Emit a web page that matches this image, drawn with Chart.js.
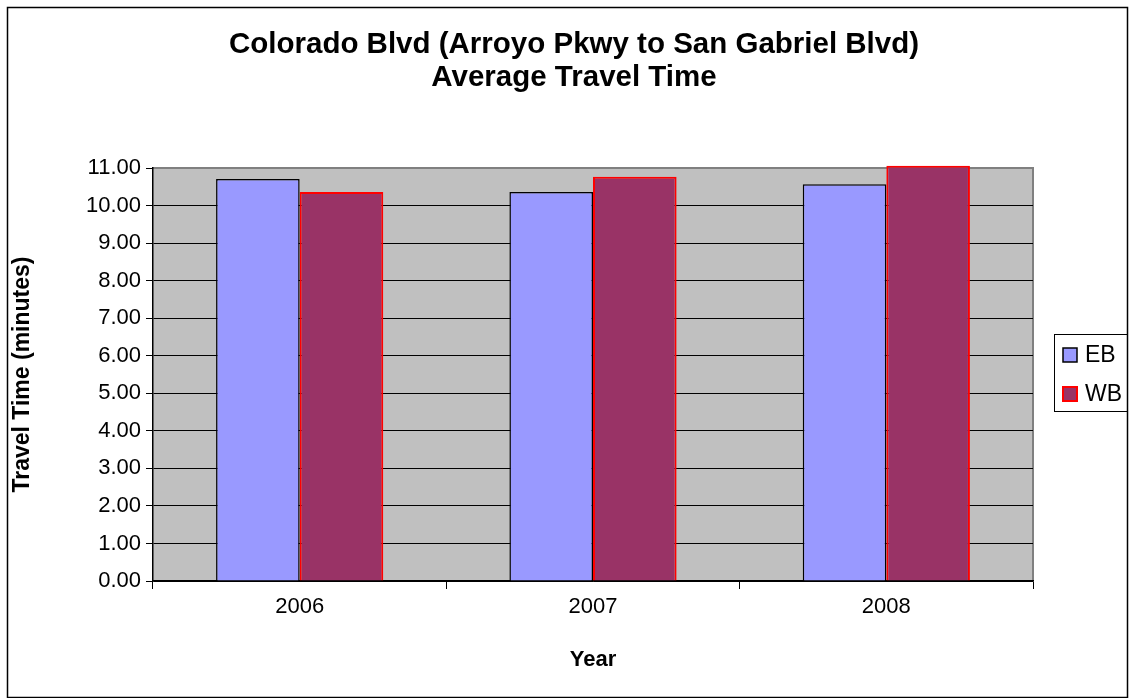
<!DOCTYPE html>
<html>
<head>
<meta charset="utf-8">
<script src="https://cdn.jsdelivr.net/npm/chart.js@4/dist/chart.umd.min.js"></script>
<style>
  body { margin: 0; background: #fff; }
  #wrap { width: 1130px; height: 698px; }
</style>
</head>
<body>
<div id="wrap"><canvas id="travelChart" width="1130" height="698"></canvas></div>
<script>
// ===============================
// DATA
// ===============================
const years = ["2006", "2007", "2008"];
const ebTimes = [10.71, 10.36, 10.57];
const wbTimes = [10.36, 10.77, 11.06];
const titleLines = ["Colorado Blvd (Arroyo Pkwy to San Gabriel Blvd)", "Average Travel Time"];

const FONT = "'Liberation Sans', Arial, sans-serif";

// ===============================
// PLUGINS
// ===============================
const plotBackground = {
  id: "plotBackground",
  beforeDraw(chart){
    let a = chart.chartArea;
    let ctx = chart.ctx;
    ctx.save();
    ctx.fillStyle = "#C0C0C0";
    ctx.fillRect(a.left, a.top, a.right - a.left, a.bottom - a.top);
    ctx.strokeStyle = "#808080";
    ctx.lineWidth = 2;
    ctx.beginPath();
    ctx.moveTo(a.left, a.top);
    ctx.lineTo(a.right, a.top);
    ctx.lineTo(a.right, a.bottom);
    ctx.stroke();
    ctx.restore();
  }
};

// outer frame + boxed legend on the right
const frameAndLegend = {
  id: "frameAndLegend",
  afterDraw(chart){
    let ctx = chart.ctx;
    ctx.save();
    ctx.strokeStyle = "#000";
    ctx.lineWidth = 1.5;
    ctx.strokeRect(7.5, 7.5, 1120, 690);

    // legend box
    ctx.lineWidth = 1;
    ctx.strokeRect(1054.5, 334.5, 73, 77);
    ctx.font = "23px " + FONT;
    ctx.textBaseline = "middle";
    ctx.textAlign = "left";
    let rows = [355, 394];
    chart.data.datasets.forEach(function(ds, i){
      let y = rows[i];
      ctx.fillStyle = ds.backgroundColor;
      ctx.fillRect(1063, y - 7, 14, 14);
      ctx.strokeStyle = ds.borderColor;
      ctx.lineWidth = i === 0 ? 1.5 : 2;
      ctx.strokeRect(1063, y - 7, 14, 14);
      ctx.fillStyle = "#000";
      ctx.fillText(ds.label, 1085, y + 1);
    });
    ctx.restore();
  }
};

// ===============================
// CHART
// ===============================
let ctx1 = document.getElementById("travelChart").getContext("2d");

new Chart(ctx1, {
  type: "bar",
  data: {
    labels: years,
    datasets: [
      {
        label: "EB",
        data: ebTimes,
        backgroundColor: "#9999FF",
        borderColor: "#000000",
        borderWidth: 1.5,
        clip: false
      },
      {
        label: "WB",
        data: wbTimes,
        backgroundColor: "#993366",
        borderColor: "#FF0000",
        borderWidth: 2,
        clip: false
      }
    ]
  },
  options: {
    responsive: false,
    animation: false,
    layout: { padding: { left: 18, right: 0, top: 0, bottom: 25 } },
    datasets: { bar: { categoryPercentage: 0.57, barPercentage: 1.0 } },
    plugins: {
      legend: { display: false },
      tooltip: { enabled: false },
      title: {
        display: true,
        text: titleLines,
        color: "#000",
        font: { family: FONT, size: 29.5, weight: "bold", lineHeight: 1.12 },
        padding: { top: 28, bottom: 74 }
      }
    },
    scales: {
      x: {
        grid: { display: true, drawOnChartArea: false, drawTicks: true, tickLength: 8, offset: true, color: "#000" },
        border: { color: "#000", width: 1.5 },
        ticks: { color: "#000", font: { family: FONT, size: 22 }, padding: 5 },
        title: { display: true, text: "Year", color: "#000", font: { family: FONT, size: 22, weight: "bold" }, padding: 0 },
        afterFit(scale){ scale.height = 92; }
      },
      y: {
        min: 0,
        max: 11,
        ticks: {
          stepSize: 1,
          color: "#000",
          font: { family: FONT, size: 22 },
          padding: 5,
          callback: function(v){ return v.toFixed(2); }
        },
        grid: {
          color: function(c){ return c.tick && c.tick.value === 11 ? "#808080" : "#000"; },
          tickColor: "#000",
          tickLength: 7,
          lineWidth: 1
        },
        border: { color: "#000", width: 1.5 },
        title: {
          display: true,
          text: "Travel Time (minutes)",
          color: "#000",
          font: { family: FONT, size: 23, weight: "bold" },
          padding: { top: -9, bottom: 0 }
        },
        afterFit(scale){ scale.width = 135; }
      },
      spare: {
        type: "linear",
        position: "right",
        display: true,
        ticks: { display: false },
        grid: { display: false },
        border: { display: false },
        afterFit(scale){ scale.width = 97; }
      }
    }
  },
  plugins: [plotBackground, frameAndLegend]
});
</script>
</body>
</html>
